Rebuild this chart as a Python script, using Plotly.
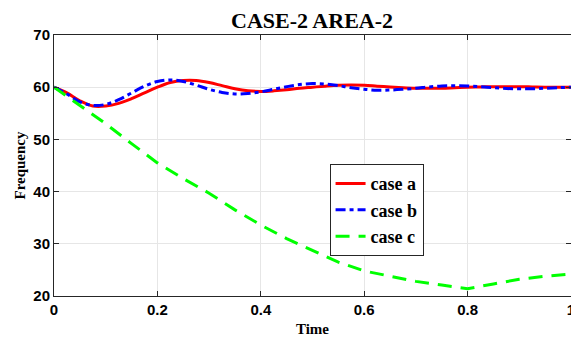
import plotly.graph_objects as go

t_ab = [0, 0.025, 0.05, 0.075, 0.1, 0.125, 0.15, 0.175, 0.2, 0.225, 0.25, 0.275, 0.3, 0.325, 0.35,
        0.375, 0.4, 0.425, 0.45, 0.475, 0.5, 0.525, 0.55, 0.575, 0.6, 0.625, 0.65, 0.675, 0.7,
        0.725, 0.75, 0.775, 0.8, 0.825, 0.85, 0.875, 0.9, 0.925, 0.95, 0.975, 1.0]
case_a = [60.0, 58.9, 57.4, 56.4, 56.4, 56.9, 57.8, 58.9, 60.0, 60.9, 61.3, 61.3, 60.9, 60.3, 59.7,
          59.3, 59.2, 59.3, 59.5, 59.8, 60.0, 60.2, 60.35, 60.4, 60.35, 60.2, 60.05, 59.9, 59.8,
          59.8, 59.8, 59.9, 60.0, 60.05, 60.1, 60.1, 60.1, 60.05, 60.0, 60.0, 60.0]
case_b = [60.0, 58.7, 57.2, 56.5, 56.7, 57.6, 58.9, 60.2, 61.1, 61.4, 61.1, 60.4, 59.6, 59.0, 58.7,
          58.8, 59.1, 59.6, 60.1, 60.5, 60.7, 60.6, 60.3, 59.9, 59.6, 59.4, 59.45, 59.6, 59.8,
          60.05, 60.25, 60.3, 60.25, 60.1, 59.9, 59.75, 59.7, 59.7, 59.8, 59.9, 60.0]
t_c = [0, 0.05, 0.1, 0.15, 0.2, 0.25, 0.3, 0.35, 0.4, 0.45, 0.5, 0.55, 0.6, 0.65, 0.7, 0.75,
       0.8, 0.85, 0.9, 0.95, 1.0]
case_c = [60.0, 56.5, 53.0, 49.2, 45.5, 42.5, 39.7, 36.5, 33.6, 31.0, 28.8, 26.5, 24.8, 23.8,
          22.8, 22.1, 21.4, 22.3, 23.2, 23.8, 24.2]

x_ticks = [0, 0.2, 0.4, 0.6, 0.8, 1]
x_tick_labels = ["0", "0.2", "0.4", "0.6", "0.8", "1"]
y_ticks = [20, 30, 40, 50, 60, 70]

SERIF = "Liberation Serif, Times New Roman, Times, serif"
SANS = "Liberation Sans, Arial, Helvetica, sans-serif"

fig = go.Figure()
fig.add_trace(go.Scatter(x=t_ab, y=case_a, mode="lines", name="<b>case a</b>",
                         line=dict(color="#ff0000", width=3, shape="spline")))
fig.add_trace(go.Scatter(x=t_ab, y=case_b, mode="lines", name="<b>case b</b>",
                         line=dict(color="#0000ff", width=3, shape="spline", dash="10px,4px,4px,4px")))
fig.add_trace(go.Scatter(x=t_c, y=case_c, mode="lines", name="<b>case c</b>",
                         line=dict(color="#00ff00", width=3, dash="14px,9px")))

axis_common = dict(showline=True, linecolor="#262626", linewidth=1, mirror="allticks",
                   ticks="inside", ticklen=5, tickcolor="#262626",
                   showgrid=True, gridcolor="#e6e6e6", gridwidth=1, zeroline=False,
                   ticklabeloverflow="allow", automargin=False,
                   tickfont=dict(family=SANS, size=15, color="#000000"))

fig.update_layout(
    width=571, height=339,
    margin=dict(l=54, r=0, t=35, b=43, autoexpand=False),
    paper_bgcolor="white", plot_bgcolor="white",
    title=dict(text="<b>CASE-2 AREA-2</b>", x=0.5465, xanchor="center",
               y=1 - 20 / 339, yanchor="middle",
               font=dict(family=SERIF, size=22, color="#000000")),
    xaxis=dict(range=[0, 1], tickvals=x_ticks, ticktext=["<b>%s</b>" % s for s in x_tick_labels],
               title=dict(text="<b>Time</b>", standoff=6,
                          font=dict(family=SERIF, size=15, color="#000000")),
               **axis_common),
    yaxis=dict(range=[20, 70], tickvals=y_ticks, ticktext=["<b>%d</b>" % v for v in y_ticks],
               title=dict(text="<b>Frequency</b>", standoff=4,
                          font=dict(family=SERIF, size=15, color="#000000")),
               **axis_common),
    legend=dict(x=0.533, y=0.505, xanchor="left", yanchor="top",
                bgcolor="white", bordercolor="#262626", borderwidth=1,
                font=dict(family=SERIF, size=18, color="#000000"),
                tracegroupgap=0, itemwidth=30),
    showlegend=True,
)

fig.write_html("out.html")
